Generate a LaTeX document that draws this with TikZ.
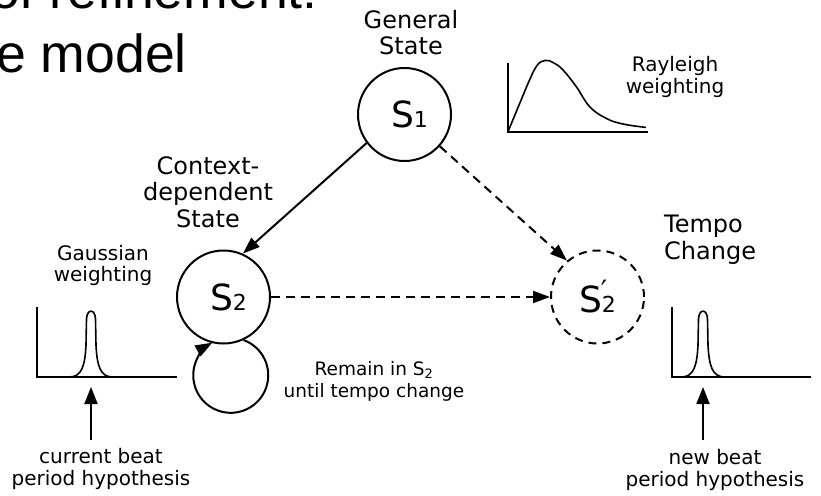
\documentclass[tikz,border=0pt]{standalone}
\usepackage{fontspec}
\setmainfont{DejaVu Sans}
\newfontfamily\titlefont{Liberation Sans}
\usetikzlibrary{arrows.meta}
\begin{document}
\begin{tikzpicture}[x=1pt,y=-1pt,
  statecirc/.style={circle, draw, line width=2pt, minimum size=93pt, inner sep=0pt,
    font=\fontsize{36}{36}\selectfont},
  dashcirc/.style={statecirc, dash pattern=on 8pt off 6pt},
  statetitle/.style={font=\fontsize{24}{26.3}\selectfont, align=center, inner sep=0pt, anchor=base},
  smalllabel/.style={font=\fontsize{20}{21.5}\selectfont, align=center, inner sep=0pt, anchor=base},
  slidetitle/.style={font=\titlefont\fontsize{53.6}{64}\selectfont, inner sep=0pt},
  conn/.style={line width=2pt, -{Triangle[length=17pt,width=12pt]}},
  dconn/.style={conn, dash pattern=on 9pt off 6pt},
  upconn/.style={line width=2pt, -{Triangle[length=17pt,width=13pt]}},
  axisline/.style={line width=2pt, line join=miter},
  curveline/.style={line width=1.6pt},
  gausspeak/.pic={
    \draw[curveline] (-21.5,0) .. controls (-9,0) and (-6,-12) .. (-5,-32)
      -- (-4.5,-58) .. controls (-4,-68.5) and (4,-68.5) .. (4.5,-58)
      -- (5,-32) .. controls (6,-12) and (9,0) .. (21.5,0);
  }
]
\useasboundingbox (0,0) rectangle (821,495);
\clip (0,0) rectangle (821,495);
\fill[white] (0,0) rectangle (821,495);

% slide title (cut off)
\node[slidetitle, anchor=base east] (title1) at (318,8.5) {of refinement:};
\node[slidetitle, anchor=base west] (title2) at (-4,72) {e model};

% states
\node[statecirc] (S1) at (404.5,114.5) {\kern10pt S{\fontsize{22}{22}\selectfont 1}};
\node[statecirc] (S2) at (223.5,297) {\kern10pt S{\fontsize{22}{22}\selectfont 2}};
\node[dashcirc] (S2p) at (597.5,297) {S\rlap{\kern-1pt\raisebox{12pt}{\fontsize{28}{28}\selectfont\char"2032}}{\fontsize{22}{22}\selectfont 2}};

% state titles (anchor = baseline of last line)
\node[statetitle] (gen) at (411,55) {General\\State};
\node[statetitle] (ctx) at (208,227) {Context-\\dependent\\State};
\node[statetitle, anchor=base west, align=left] (tempo) at (664,259) {Tempo\\Change};

% connectors
\draw[conn] (S1.-143) -- (S2.66);
\draw[dconn] (S1.-42.5) -- (S2p.130);
\draw[dconn] (S2) -- (S2p);
\draw[conn] (S2.-65.7) arc[start angle=-70, end angle=240.6, radius=37.5];

\node[font=\fontsize{18.5}{22}\selectfont, align=center, inner sep=0pt, anchor=base] (remain)
  at (374,397) {Remain in S\textsubscript{2}\\until tempo change};

% Rayleigh weighting plot
\draw[axisline] (508,63) -- (508,131.7) -- (648,131.7);
\draw[curveline] plot[smooth, tension=0.7] coordinates {(508,131.7) (519.7,103.4) (530,79)
  (537,65.5) (544.7,60.5) (553,62.5) (563,70) (576.3,86.7) (589.7,106.7) (606.3,118.4)
  (623,124) (646,127.4)};
\node[smalllabel] (ray) at (675,93.3) {Rayleigh\\weighting};

% Gaussian weighting plot (left)
\draw[axisline] (37,307) -- (37,377) -- (177,377);
\pic at (91,377) {gausspeak};
\node[smalllabel] (gauss) at (103,281.7) {Gaussian\\weighting};
\coordinate (cbtail) at (91,440);
\coordinate (cbtip) at (91,387);
\draw[upconn] (cbtail) -- (cbtip);
\node[smalllabel] (cur) at (101,485) {current beat\\period hypothesis};

% Gaussian plot (right)
\draw[axisline] (672,307) -- (672,377) -- (811,377);
\pic at (703,377) {gausspeak};
\coordinate (nbtail) at (703,440);
\coordinate (nbtip) at (703,387);
\draw[upconn] (nbtail) -- (nbtip);
\node[smalllabel] (newb) at (715,486) {new beat\\period hypothesis};
\end{tikzpicture}
\end{document}
